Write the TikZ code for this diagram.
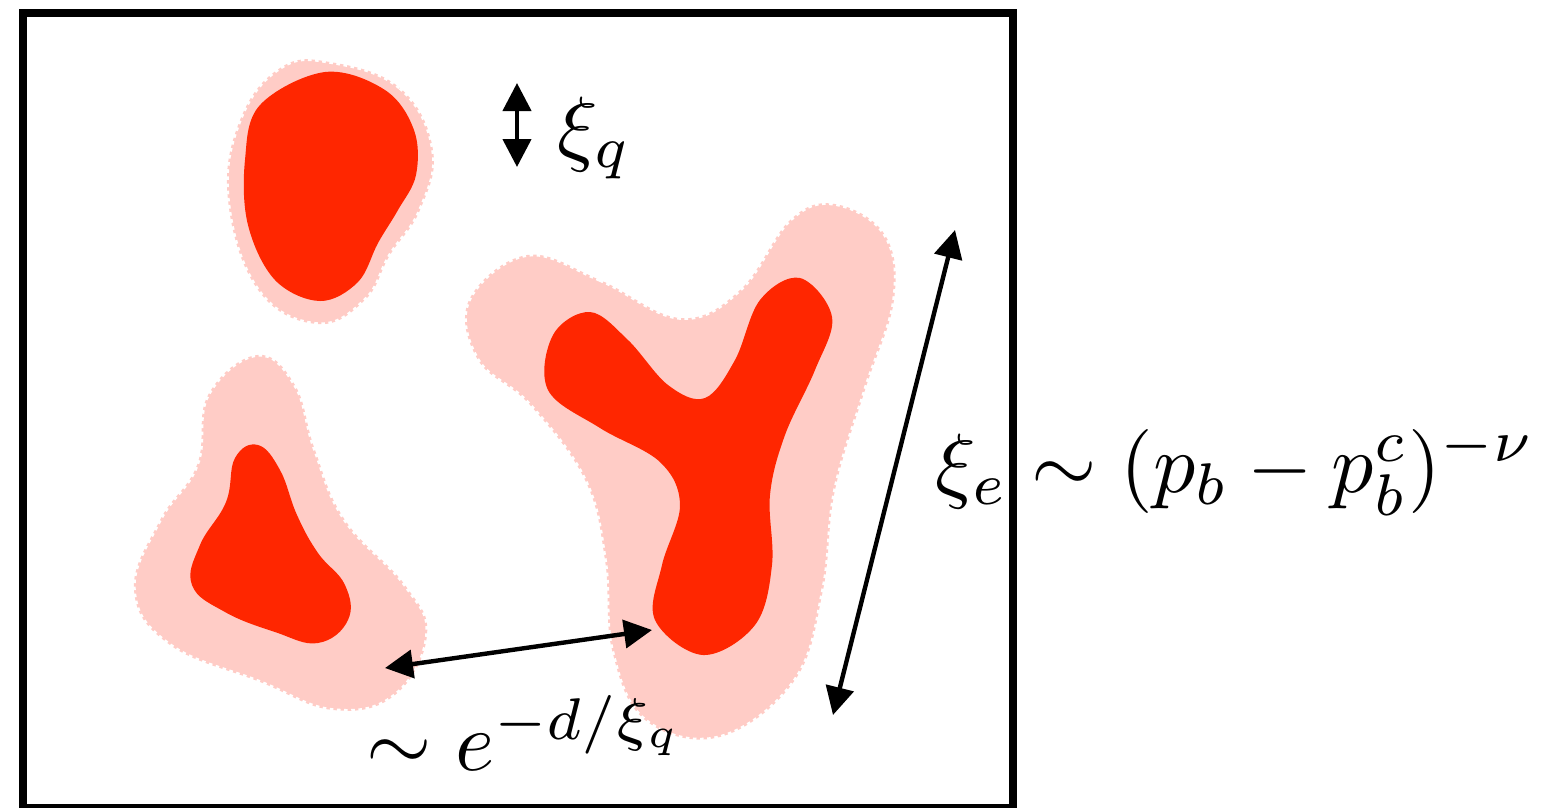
\documentclass[tikz,border=0pt]{standalone}
\usetikzlibrary{arrows.meta}
\definecolor{corered}{RGB}{255,38,0}
\definecolor{halopink}{RGB}{255,204,198}

\begin{document}
\begin{tikzpicture}[x=0.25pt,y=-0.25pt,
  halo/.style={fill=halopink,draw=white,line width=0.9pt,dash pattern=on 0.9pt off 0.9pt},
  core/.style={fill=corered},
  dimarrow/.style={line width=1.1pt,{Triangle[length=7pt,width=7pt]}-{Triangle[length=7pt,width=7pt]}},
  lbl/.style={inner sep=0pt,scale=2.1}]
  \useasboundingbox (0,0) rectangle (1555,807);

  % halos
  \filldraw[halo] plot[smooth cycle,tension=0.7] coordinates {(330,62) (400,88) (433,150) (420,210) (390,255) (365,300) (317,324) (258,290) (228,200) (240,120) (280,68)};
  \filldraw[halo] plot[smooth cycle,tension=0.7] coordinates {(257,355) (295,385) (315,450) (345,520) (405,585) (427,635) (395,695) (333,710) (260,682) (170,645) (134,590) (160,520) (197,465) (208,395)};
  \filldraw[halo] plot[smooth cycle,tension=0.65] coordinates {(527,255) (600,280) (680,318) (740,290) (790,220) (835,204) (885,235) (894,300) (865,390) (835,490) (823,590) (795,680) (720,737) (645,720) (612,650) (605,560) (585,480) (530,405) (478,360) (469,300)};

  % cores
  \fill[core] plot[smooth cycle,tension=0.6] coordinates {(325,72) (385,90) (414,130) (416,175) (398,210) (378,243) (358,282) (320,301) (275,280) (248,225) (245,160) (260,105)};
  \fill[core] plot[smooth cycle,tension=0.7] coordinates {(258,445) (280,470) (297,515) (318,553) (345,585) (348,620) (318,643) (275,632) (225,612) (192,585) (200,545) (226,502) (235,458)};
  \fill[core] plot[smooth cycle,tension=0.6] coordinates {(590,312) (628,340) (668,385) (705,398) (735,360) (760,300) (800,278) (832,317) (815,370) (785,435) (770,495) (772,565) (755,625) (703,655) (655,620) (662,565) (680,505) (660,462) (600,428) (548,390) (553,335)};

  % arrows
  \coordinate (qtop) at (517,83);
  \coordinate (qbot) at (517,167);
  \coordinate (dleft) at (385,668);
  \coordinate (dright) at (652,630);
  \coordinate (etop) at (955,230);
  \coordinate (ebot) at (833,715);
  \draw[dimarrow] (qtop) -- (qbot);
  \draw[dimarrow] (dleft) -- (dright);
  \draw[dimarrow] (etop) -- (ebot);

  % labels
  \node[lbl,anchor=base west] (xiq) at (556,155) {$\xi_q$};
  \node[lbl,anchor=base west] (decay) at (365,770) {$\sim e^{-d/\xi_q}$};
  \node[lbl,anchor=base west] (xie) at (934,492) {$\xi_e \sim (p_b - p_b^c)^{-\nu}$};

  % frame
  \draw[line width=2pt] (22.7,13.3) rectangle (1012.5,808);
\end{tikzpicture}
\end{document}
